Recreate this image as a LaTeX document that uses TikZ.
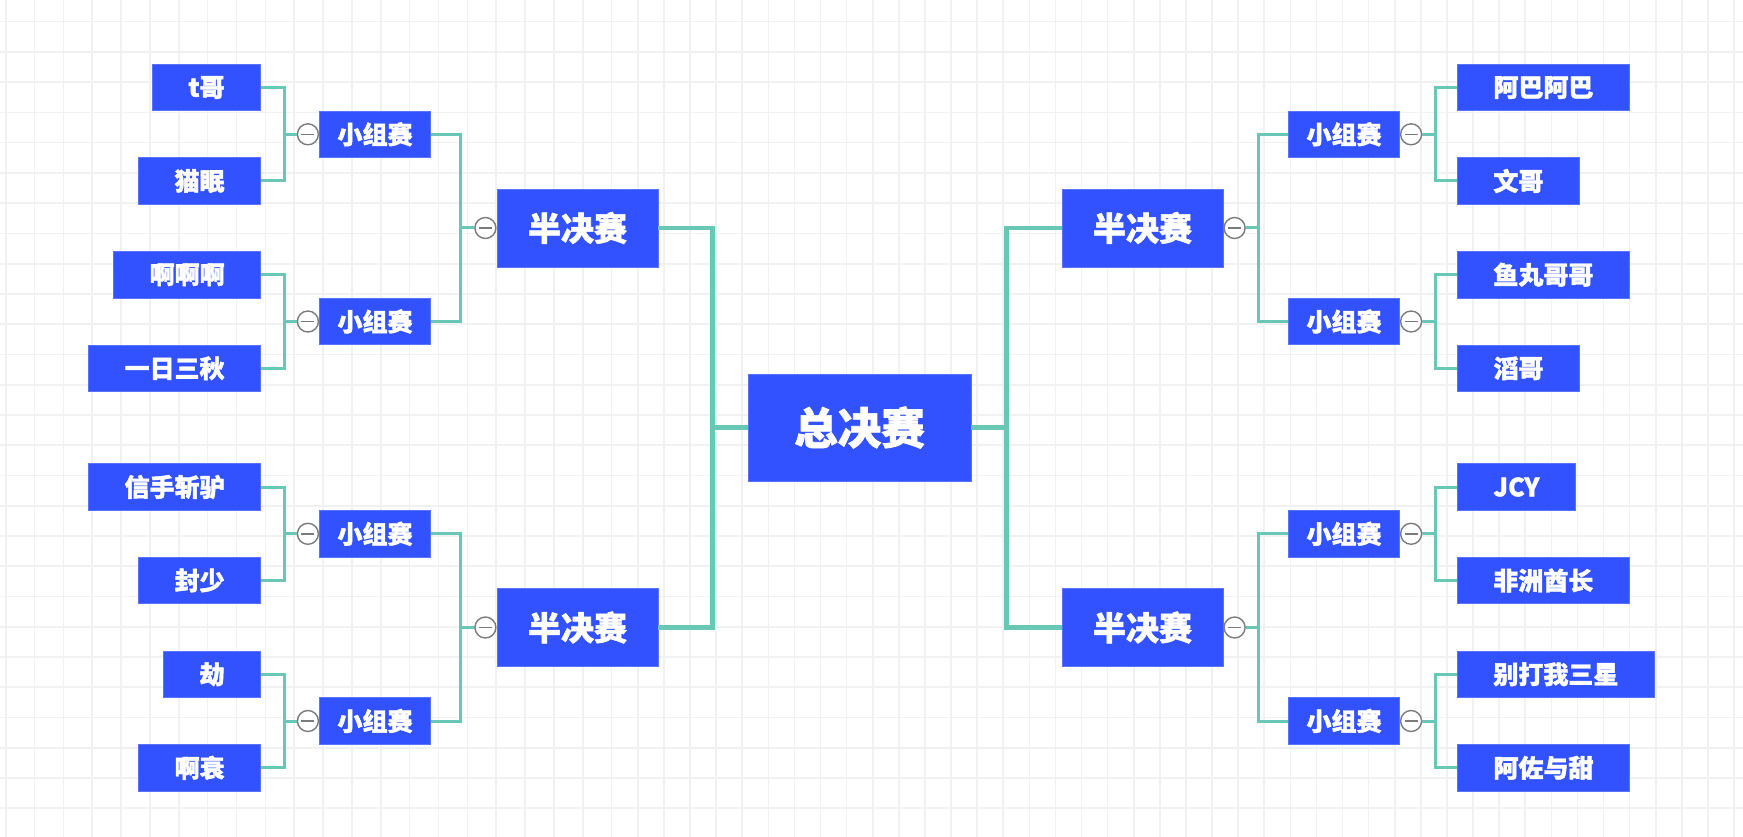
\documentclass[tikz,border=0pt]{standalone}
\usepackage{fontspec}
\setmainfont{Noto Sans CJK SC}[BoldFeatures={FakeBold=1.6}]
\usepackage{xcolor}
\usepackage{tikz}
\usetikzlibrary{positioning}
\definecolor{gridc}{HTML}{F1F1F1}
\definecolor{box}{HTML}{3352FF}
\definecolor{boxline}{HTML}{5A74FF}
\definecolor{linkc}{HTML}{68C8B5}
\definecolor{knob}{HTML}{7B7B7B}
\tikzset{
  card/.style={fill=box, draw=boxline, line width=0.8pt, text=white, inner ysep=0pt},
  leaf/.style={card, font=\fontsize{25}{25}\selectfont\bfseries, minimum height=46.5pt, inner xsep=36pt},
  grp/.style={card, font=\fontsize{25}{25}\selectfont\bfseries, minimum width=111pt, minimum height=46.5pt},
  semi/.style={card, font=\fontsize{33}{33}\selectfont\bfseries, minimum width=161pt, minimum height=78pt},
  final/.style={card, font=\fontsize{43.5}{43.5}\selectfont\bfseries, minimum width=223pt, minimum height=107pt},
  link/.style={draw=linkc, line width=3pt},
  trunk/.style={draw=linkc, line width=4.5pt},
  fold/.style={circle, draw=knob, fill=white, line width=1.4pt, minimum size=21pt, inner sep=0pt,
    path picture={\draw[knob, line width=1.4pt] ([xshift=-6.5pt]path picture bounding box.center) -- ([xshift=6.5pt]path picture bounding box.center);}},
  paper/.style={draw=gridc, line width=1.6pt},
}
\begin{document}
\begin{tikzpicture}[x=1pt, y=-1pt]
  \useasboundingbox (0,0) rectangle (1743,837);
  \fill[white] (0,0) rectangle (1743,837);
  % background grid
  \foreach \i in {0,...,21} \draw[paper] (5.7+28.85*\i,0) -- (5.7+28.85*\i,837);
  \foreach \i in {1,...,43} \draw[paper] (611.7+26.1*\i,0) -- (611.7+26.1*\i,837);
  \foreach \j in {0,...,26} \draw[paper] (0,21.7+30.25*\j) -- (1743,21.7+30.25*\j);

  % final and semifinals
  \node[final] (O) at (859.5,427.5) {总决赛};
  \node[semi] (S1) at (577.5,228) {半决赛};
  \node[semi] (S2) at (577.5,627.5) {半决赛};
  \node[semi] (S3) at (1142.5,228) {半决赛};
  \node[semi] (S4) at (1142.5,627.5) {半决赛};

  % groups
  \node[grp] (G1) at (375,134.3) {小组赛};
  \node[grp] (G2) at (375,321.5) {小组赛};
  \node[grp] (G3) at (375,533.8) {小组赛};
  \node[grp] (G4) at (375,721) {小组赛};
  \node[grp] (G5) at (1344,134.3) {小组赛};
  \node[grp] (G6) at (1344,321.5) {小组赛};
  \node[grp] (G7) at (1344,533.8) {小组赛};
  \node[grp] (G8) at (1344,721) {小组赛};

  % players, left
  \node[leaf, anchor=east] (L1) at (261,87.5) {t哥};
  \node[leaf, anchor=east] (L2) at (261,181) {猫眠};
  \node[leaf, anchor=east] (L3) at (261,274.7) {啊啊啊};
  \node[leaf, anchor=east] (L4) at (261,368.3) {一日三秋};
  \node[leaf, anchor=east] (L5) at (261,487) {信手斩驴};
  \node[leaf, anchor=east] (L6) at (261,580.5) {封少};
  \node[leaf, anchor=east] (L7) at (261,674.3) {劫};
  \node[leaf, anchor=east] (L8) at (261,767.8) {啊衰};
  % players, right
  \node[leaf, anchor=west] (R1) at (1457,87.5) {阿巴阿巴};
  \node[leaf, anchor=west] (R2) at (1457,181) {文哥};
  \node[leaf, anchor=west] (R3) at (1457,274.7) {鱼丸哥哥};
  \node[leaf, anchor=west] (R4) at (1457,368.3) {滔哥};
  \node[leaf, anchor=west] (R5) at (1457,487) {JCY};
  \node[leaf, anchor=west] (R6) at (1457,580.5) {非洲酋长};
  \node[leaf, anchor=west] (R7) at (1457,674.3) {别打我三星};
  \node[leaf, anchor=west] (R8) at (1457,767.8) {阿佐与甜};

  % fold knobs
  \node[fold, left=0pt of S1] (FS1) {};
  \node[fold, left=0pt of S2] (FS2) {};
  \node[fold, right=0pt of S3] (FS3) {};
  \node[fold, right=0pt of S4] (FS4) {};
  \node[fold, left=0pt of G1] (FG1) {};
  \node[fold, left=0pt of G2] (FG2) {};
  \node[fold, left=0pt of G3] (FG3) {};
  \node[fold, left=0pt of G4] (FG4) {};
  \node[fold, right=0pt of G5] (FG5) {};
  \node[fold, right=0pt of G6] (FG6) {};
  \node[fold, right=0pt of G7] (FG7) {};
  \node[fold, right=0pt of G8] (FG8) {};

  % semifinals -> final
  \draw[trunk] (S1.east) -- ++(54,0) |- (O.west);
  \draw[trunk] (S2.east) -- ++(54,0) |- (O.west);
  \draw[trunk] (S3.west) -- ++(-55,0) |- (O.east);
  \draw[trunk] (S4.west) -- ++(-55,0) |- (O.east);

  % groups -> semifinals
  \draw[link] (G1.east) -- ++(30,0) |- (FS1.west);
  \draw[link] (G2.east) -- ++(30,0) |- (FS1.west);
  \draw[link] (G3.east) -- ++(30,0) |- (FS2.west);
  \draw[link] (G4.east) -- ++(30,0) |- (FS2.west);
  \draw[link] (G5.west) -- ++(-30,0) |- (FS3.east);
  \draw[link] (G6.west) -- ++(-30,0) |- (FS3.east);
  \draw[link] (G7.west) -- ++(-30,0) |- (FS4.east);
  \draw[link] (G8.west) -- ++(-30,0) |- (FS4.east);

  % players -> groups
  \draw[link] (L1.east) -- ++(23,0) |- (FG1.west);
  \draw[link] (L2.east) -- ++(23,0) |- (FG1.west);
  \draw[link] (L3.east) -- ++(23,0) |- (FG2.west);
  \draw[link] (L4.east) -- ++(23,0) |- (FG2.west);
  \draw[link] (L5.east) -- ++(23,0) |- (FG3.west);
  \draw[link] (L6.east) -- ++(23,0) |- (FG3.west);
  \draw[link] (L7.east) -- ++(23,0) |- (FG4.west);
  \draw[link] (L8.east) -- ++(23,0) |- (FG4.west);
  \draw[link] (R1.west) -- ++(-22,0) |- (FG5.east);
  \draw[link] (R2.west) -- ++(-22,0) |- (FG5.east);
  \draw[link] (R3.west) -- ++(-22,0) |- (FG6.east);
  \draw[link] (R4.west) -- ++(-22,0) |- (FG6.east);
  \draw[link] (R5.west) -- ++(-22,0) |- (FG7.east);
  \draw[link] (R6.west) -- ++(-22,0) |- (FG7.east);
  \draw[link] (R7.west) -- ++(-22,0) |- (FG8.east);
  \draw[link] (R8.west) -- ++(-22,0) |- (FG8.east);
\end{tikzpicture}
\end{document}
